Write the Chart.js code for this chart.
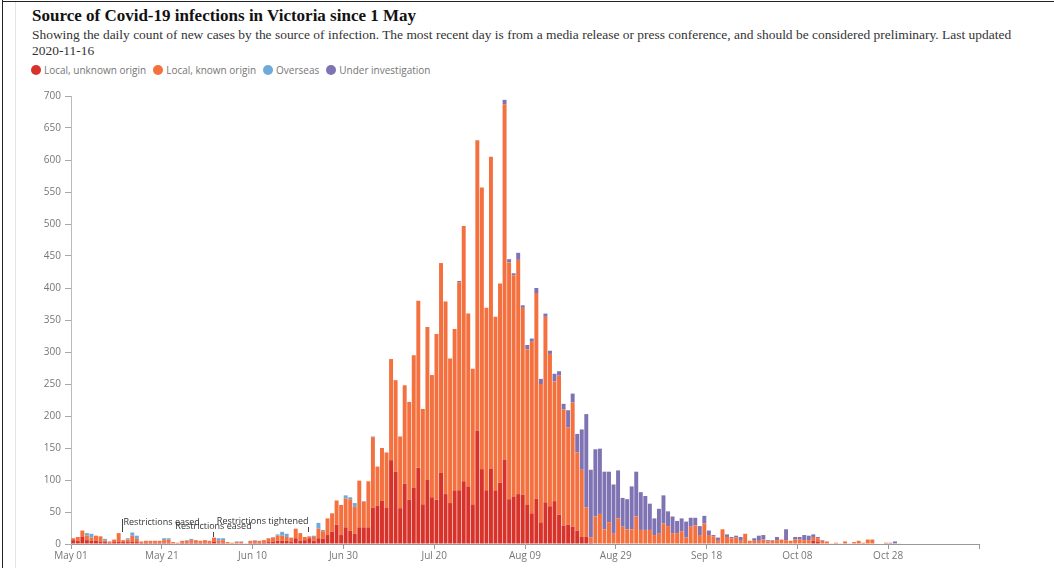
<!DOCTYPE html>
<html>
<head>
<meta charset="utf-8">
<script src="https://cdn.jsdelivr.net/npm/chart.js@4.4.0/dist/chart.umd.min.js"></script>
<style>
  html, body { margin: 0; padding: 0; background: #fff; }
  body { width: 1054px; height: 568px; position: relative; overflow: hidden; }
  #frameL { position: absolute; left: 2px; top: 0; width: 1px; height: 568px; background: #222; }
  #frameT { position: absolute; left: 2px; top: 1px; width: 1052px; height: 1px; background: #222; }
  #frameG { position: absolute; left: 15px; top: 2px; width: 1px; height: 566px; background: #e4e4e4; }
  #title { position: absolute; left: 32px; top: 6px; font: bold 17px/20px "Liberation Serif", serif; color: #121212; white-space: nowrap; }
  #sub { position: absolute; left: 32px; top: 27px; font: 13.45px/16px "Liberation Serif", serif; color: #333; white-space: nowrap; }
  #legend { position: absolute; left: 31px; top: 64px; height: 12px; display: flex; align-items: center; font: 10px "Open Sans", sans-serif; color: #767676; white-space: nowrap; }
  #legend .dot { width: 10px; height: 10px; border-radius: 50%; margin-right: 3px; }
  #legend .lab { margin-right: 7px; }
  canvas { position: absolute; left: 0; top: 0; }
</style>
</head>
<body>
<div id="frameL"></div><div id="frameT"></div><div id="frameG"></div>
<div id="title">Source of Covid-19 infections in Victoria since 1 May</div>
<div id="sub">Showing the daily count of new cases by the source of infection. The most recent day is from a media release or press conference, and should be considered preliminary. Last updated<br>2020-11-16</div>
<div id="legend"></div>
<canvas id="c" width="1054" height="568"></canvas>
<script>
// ---- Data (daily counts from 1 May 2020, one value per day) ----
const startDate = "2020-05-01";

const unknownOrigin = [
  6,5,11,6,5,5,4,3,2,3,
  4,3,3,4,3,2,2,2,2,2,
  2,2,1,1,2,2,2,2,2,2,
  2,4,2,2,1,1,1,1,0,2,
  2,2,2,3,4,5,5,5,4,9,
  5,6,9,5,9,8,14,19,30,14,
  26,21,16,26,26,26,57,60,68,57,
  131,113,56,94,69,88,119,62,100,73,
  69,111,78,64,83,84,98,90,62,177,
  117,84,118,83,96,132,70,74,78,77,
  61,48,71,33,65,59,67,46,29,30,
  27,21,11,11,2,0,0,0,0,0,
  0,0,0,0,0,0,0,0,0,0,
  0,0,0,0,0,0,0,0,0,0,
  0,0,0,0,0,0,0,0,0,0,
  0,0,0,0,0,0,0,0,0,0,
  0,0,0,5,4,0,0,0,0,0,
  0,0,0,0,0,0,0,0,0,0,
  0,0,0,0,0,0,0,0,0,0,
  0,0,0,0,0,0,0,0,0,0
];

const knownOrigin = [
  3,6,10,7,5,8,8,2,2,4,
  13,3,4,9,5,2,3,3,3,3,
  4,5,2,1,3,3,4,4,3,4,
  3,6,3,4,2,1,2,2,1,3,
  3,3,4,6,6,8,8,6,6,15,
  12,5,3,6,15,12,26,29,38,47,
  45,49,42,73,40,72,110,61,82,86,
  158,143,112,154,153,207,261,149,239,191,
  259,328,301,226,253,325,399,270,212,454,
  440,285,487,272,311,555,370,346,366,292,
  243,268,321,217,290,238,187,217,181,152,
  194,122,105,46,8,43,47,23,34,16,
  40,27,23,23,43,22,22,22,14,16,
  32,28,17,17,20,10,27,29,14,32,
  14,12,5,23,11,9,10,5,16,5,
  5,5,7,4,5,6,7,6,5,7,
  7,6,6,6,5,5,4,1,2,1,
  4,1,3,5,2,7,7,0,0,2,
  1,1,1,0,0,0,0,0,0,0,
  0,0,0,0,0,0,0,0,0,0
];

const overseas = [
  0,0,0,4,6,0,0,3,0,0,
  0,0,2,5,5,0,0,0,0,0,
  3,2,0,0,0,1,2,0,0,0,
  0,0,4,3,0,0,1,1,0,0,
  1,0,0,0,1,2,6,5,0,0,
  0,0,0,2,9,2,0,0,0,0,
  5,3,6,0,1,0,1,0,0,0,
  0,0,0,0,0,0,0,0,0,0,
  0,0,0,0,0,0,0,0,0,0,
  0,0,0,0,0,0,0,0,0,0,
  0,0,0,0,0,0,0,0,0,0,
  0,0,0,0,0,0,0,0,0,0,
  0,0,0,0,0,0,0,0,0,0,
  0,0,0,0,0,0,0,0,0,0,
  0,0,0,0,0,0,0,0,0,0,
  0,0,0,0,0,0,0,0,0,0,
  0,0,0,0,0,0,0,0,0,0,
  0,0,0,0,0,0,0,0,0,0,
  0,0,0,0,0,0,0,0,0,0,
  0,0,0,0,0,0,0,0,0,0
];

const underInvestigation = [
  0,0,0,0,0,0,0,0,0,0,
  0,0,0,0,0,0,0,0,0,0,
  0,0,0,0,0,0,0,0,0,0,
  0,0,0,0,0,0,0,0,0,0,
  0,0,0,0,0,0,0,0,0,0,
  0,0,0,0,0,0,0,0,0,0,
  0,0,0,0,0,0,0,0,0,0,
  0,0,0,0,0,0,0,0,0,0,
  0,0,0,0,0,2,0,0,0,0,
  0,0,0,0,0,7,5,3,11,4,
  7,5,8,8,5,5,12,7,9,27,
  14,29,63,146,106,105,102,90,79,77,
  75,45,47,67,70,59,53,41,26,39,
  44,23,26,19,20,25,14,12,14,12,
  7,2,5,0,4,2,3,6,0,0,
  4,8,7,2,1,5,0,17,0,4,
  4,8,7,4,2,1,0,0,0,0,
  0,0,0,0,0,0,0,0,0,0,
  1,3,0,0,0,0,0,0,0,0,
  0,0,0,0,0,0,0,0,0,0
];

const seriesNames = ["Local, unknown origin", "Local, known origin", "Overseas", "Under investigation"];
const seriesColors = ["#d8332a", "#f4703f", "#70aad9", "#7f73b3"];

const tickDays = [0, 20, 40, 60, 80, 100, 120, 140, 160, 180];
const tickLabels = ["May 01", "May 21", "Jun 10", "Jun 30", "Jul 20", "Aug 09", "Aug 29", "Sep 18", "Oct 08", "Oct 28"];

const noteDays = [11, 31, 52];
const noteTexts = ["Restrictions eased", "Restrictions eased", "Restrictions tightened"];

// ---- Legend ----
const legendEl = document.getElementById('legend');
seriesNames.forEach((n, k) => {
  const d = document.createElement('span'); d.className = 'dot'; d.style.background = seriesColors[k];
  const t = document.createElement('span'); t.className = 'lab'; t.textContent = n;
  legendEl.appendChild(d); legendEl.appendChild(t);
});

// ---- Chart ----
const toPoints = arr => arr.map((v, i) => ({ x: i + 0.5, y: v }));
const allSeries = [unknownOrigin, knownOrigin, overseas, underInvestigation];

const noteStyle = [
  { align: 'left',   dx: 1, textOff: 19, lineTop: 25, lineBottom: 12 },
  { align: 'center', dx: 0, textOff: 15, lineTop: 12, lineBottom: 7 },
  { align: 'right',  dx: 0, textOff: 20, lineTop: 17, lineBottom: 12 }
];

const notesPlugin = {
  id: 'notes',
  afterDatasetsDraw(chart) {
    const { ctx, scales: { x, y } } = chart;
    const base = y.getPixelForValue(0);
    ctx.save();
    ctx.font = '9px "Open Sans", sans-serif';
    ctx.fillStyle = '#333';
    ctx.strokeStyle = '#444';
    ctx.lineWidth = 1;
    noteDays.forEach((d, k) => {
      const s = noteStyle[k];
      const px = Math.round(x.getPixelForValue(d + 0.25)) + 0.5;
      ctx.beginPath();
      ctx.moveTo(px, base - s.lineTop);
      ctx.lineTo(px, base - s.lineBottom);
      ctx.stroke();
      ctx.textAlign = s.align;
      ctx.textBaseline = 'alphabetic';
      ctx.fillText(noteTexts[k], px + s.dx, base - s.textOff);
    });
    ctx.restore();
  }
};

new Chart(document.getElementById('c'), {
  type: 'bar',
  data: {
    datasets: allSeries.map((arr, k) => ({
      label: seriesNames[k],
      data: toPoints(arr),
      backgroundColor: seriesColors[k],
      borderWidth: 0,
      barPercentage: 0.87,
      categoryPercentage: 1
    }))
  },
  options: {
    responsive: false,
    animation: false,
    devicePixelRatio: 1,
    layout: { padding: { left: 0, right: 75, top: 96, bottom: 0 } },
    plugins: { legend: { display: false }, tooltip: { enabled: false }, title: { display: false } },
    scales: {
      x: {
        type: 'linear', min: 0, max: 200, stacked: true, offset: false,
        ticks: {
          stepSize: 20, autoSkip: false, maxRotation: 0, minRotation: 0,
          color: '#767676', font: { family: 'Open Sans', size: 10 }, padding: 1,
          callback: v => { const k = tickDays.indexOf(v); return k >= 0 ? tickLabels[k] : ''; }
        },
        grid: { offset: false, drawOnChartArea: false, drawTicks: true, tickLength: 5, color: '#999' },
        border: { display: true, color: '#999' },
        afterFit: s => { s.height = 24; }
      },
      y: {
        min: 0, max: 700, stacked: true,
        ticks: { stepSize: 50, color: '#767676', font: { family: 'Open Sans', size: 10 }, padding: 4 },
        grid: { drawOnChartArea: false, drawTicks: true, tickLength: 6, color: '#aaa' },
        border: { display: true, color: '#bbb' },
        afterFit: s => { s.width = 71; }
      }
    }
  },
  plugins: [notesPlugin]
});
</script>
</body>
</html>
